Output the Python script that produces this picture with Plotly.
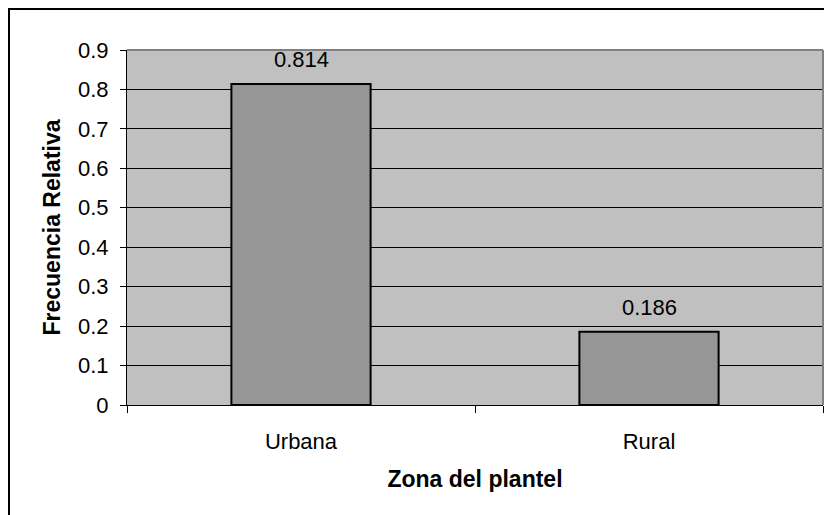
import plotly.graph_objects as go

categories = ["Urbana", "Rural"]
values = [0.814, 0.186]
value_labels = ["0.814", "0.186"]
y_ticks = [0, 0.1, 0.2, 0.3, 0.4, 0.5, 0.6, 0.7, 0.8, 0.9]
y_tick_labels = ["0", "0.1", "0.2", "0.3", "0.4", "0.5", "0.6", "0.7", "0.8", "0.9"]

FONT = "Liberation Sans, Arial, sans-serif"
FS = 22
FSB = 23

# page body has an 8px margin: figure is drawn at (8, 8)
W, H = 824, 507
ML, MR, MT, MB = 119, 9, 42, 110
PW = W - ML - MR
PH = H - MT - MB

fig = go.Figure()
fig.add_trace(go.Bar(
    x=categories, y=values,
    marker=dict(color="#969696", line=dict(color="black", width=2)),
    width=0.4,
    hoverinfo="skip",
))

for c, v, t in zip(categories, values, value_labels):
    fig.add_annotation(x=c, y=v, text=t, showarrow=False, xref="x", yref="y",
                       yanchor="bottom", yshift=10,
                       font=dict(family=FONT, size=FS, color="black"))

fig.update_layout(
    width=W, height=H,
    margin=dict(l=ML, r=MR, t=MT, b=MB),
    paper_bgcolor="white",
    plot_bgcolor="#C0C0C0",
    showlegend=False,
    font=dict(family=FONT, size=FS, color="black"),
    xaxis=dict(
        type="category",
        tickson="boundaries",
        ticks="outside", ticklen=7, tickcolor="black", tickwidth=1,
        showgrid=False,
        showline=True, linecolor="black", linewidth=1,
        ticklabelstandoff=17,
        tickfont=dict(family=FONT, size=FS),
        title=dict(text="<b>Zona del plantel</b>", standoff=17,
                   font=dict(family=FONT, size=FSB)),
    ),
    yaxis=dict(
        range=[0, 0.9],
        tickvals=y_ticks, ticktext=y_tick_labels,
        ticks="outside", ticklen=6, tickcolor="black", tickwidth=1,
        showgrid=True, gridcolor="black", gridwidth=1,
        zeroline=False,
        showline=True, linecolor="black", linewidth=1,
        ticklabelstandoff=7,
        tickfont=dict(family=FONT, size=FS),
        title=dict(text="<b>Frecuencia Relativa</b>", standoff=10,
                   font=dict(family=FONT, size=FSB)),
    ),
)

# plot area gray border on top and right
fig.add_shape(type="line", xref="paper", yref="paper", x0=0, x1=1, y0=1, y1=1,
              line=dict(color="#808080", width=2))
fig.add_shape(type="line", xref="paper", yref="paper", x0=1, x1=1, y0=0, y1=1,
              line=dict(color="#808080", width=2))

# outer chart border
fig.add_shape(type="rect", xref="paper", yref="paper",
              x0=(1 - ML) / PW, x1=1.2, y0=-0.5, y1=(MT + PH - 1) / PH,
              line=dict(color="black", width=2), fillcolor="rgba(0,0,0,0)", layer="below")

fig.write_html("out.html")
